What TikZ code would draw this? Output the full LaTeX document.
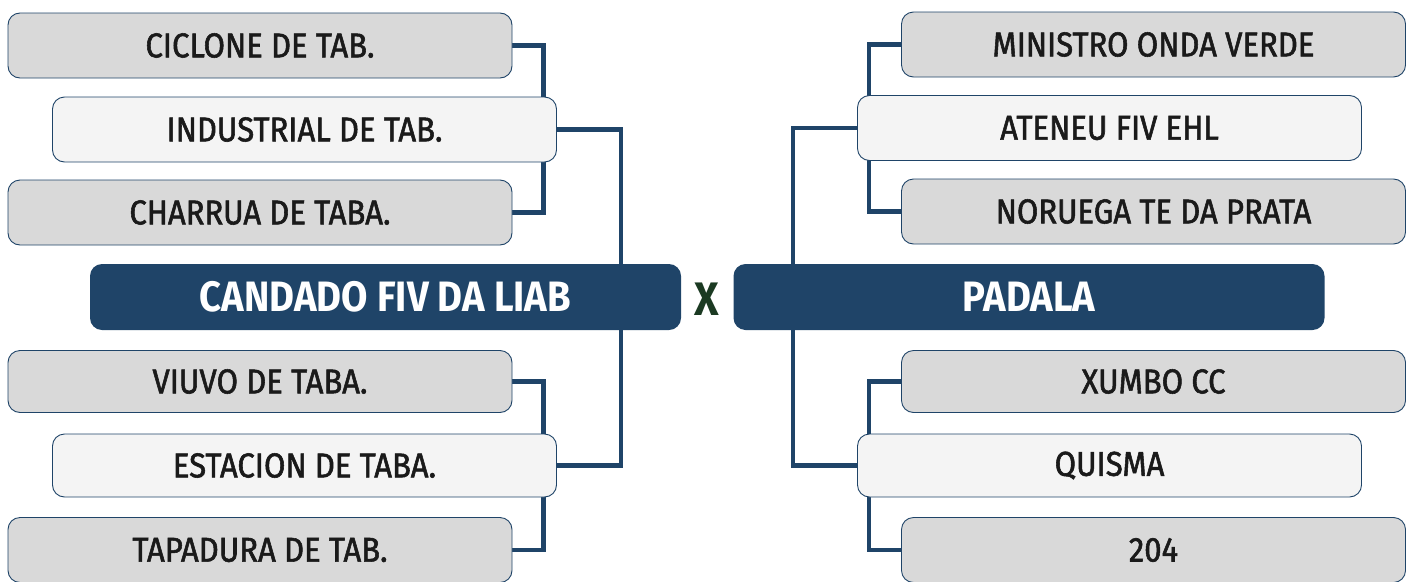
\documentclass[tikz,border=0pt]{standalone}
\usepackage{fontspec}
\setmainfont{Fira Sans}[FakeStretch=0.9,UprightFeatures={FakeBold=1.6}]
\usetikzlibrary{backgrounds}
\definecolor{navy}{HTML}{1F4468}
\definecolor{boxgray}{HTML}{D9D9D9}
\definecolor{boxlight}{HTML}{F4F4F4}
\definecolor{xgreen}{HTML}{1B3A22}
\definecolor{ink}{HTML}{1A1A1A}

\begin{document}
\begin{tikzpicture}[x=1pt,y=-1pt,
    team/.style={draw=navy,line width=0.9pt,rounded corners=12pt,fill=boxgray,
      minimum width=504pt,minimum height=65pt,inner sep=0pt,text=ink,
      font=\fontsize{34.5}{40}\selectfont},
    winner/.style={team,fill=boxlight},
    final/.style={fill=navy,rounded corners=12pt,minimum width=591pt,minimum height=66pt,
      inner sep=0pt,text=white,font=\fontsize{42.5}{48}\selectfont\bfseries},
    link/.style={navy,line width=4.5pt}]
    \useasboundingbox (0,0) rectangle (1413,581);
    % left side
    \node[team]   (ciclone)  at (260,45.5)   {CICLONE DE TAB.};
    \node[winner] (industrial) at (304.5,129.5) {INDUSTRIAL DE TAB.};
    \node[team]   (charrua)  at (260,212.5)  {CHARRUA DE TABA.};
    \node[final]  (candado)  at (385.5,297)  {CANDADO FIV DA LIAB};
    \node[team,minimum height=62pt]   (viuvo)    at (260,381.5)  {VIUVO DE TABA.};
    \node[winner,minimum height=63pt] (estacion) at (304.5,465.5) {ESTACION DE TABA.};
    \node[team]   (tapadura) at (260,550)    {TAPADURA DE TAB.};
    % versus
    \node[text=xgreen,font=\fontsize{47}{50}\selectfont\bfseries] (vs) at (707,299) {X};
    % right side
    \node[team]   (ministro) at (1153.5,44.5) {MINISTRO ONDA VERDE};
    \node[winner] (ateneu)   at (1109.5,128)  {ATENEU FIV EHL};
    \node[team]   (noruega)  at (1153.5,211.5) {NORUEGA TE DA PRATA};
    \node[final]  (padala)   at (1029,297)    {PADALA};
    \node[team,minimum height=62pt]   (xumbo)  at (1153.5,381.5) {XUMBO CC};
    \node[winner,minimum height=63pt] (quisma) at (1109.5,465.5) {QUISMA};
    \node[team]   (num204)   at (1153.5,550)  {204};
    % brackets
    \begin{scope}[on background layer]
      \draw[link] (ciclone.east) -- ++(31,0) |- (charrua.east);
      \draw[link] (industrial.east) -- ++(64,0) |- (estacion.east);
      \draw[link] (viuvo.east) -- ++(31,0) |- (tapadura.east);
      \draw[link] (ministro.west) -- ++(-32,0) |- (noruega.west);
      \draw[link] (ateneu.west) -- ++(-64,0) |- (quisma.west);
      \draw[link] (xumbo.west) -- ++(-32,0) |- (num204.west);
    \end{scope}
  \end{tikzpicture}
\end{document}
